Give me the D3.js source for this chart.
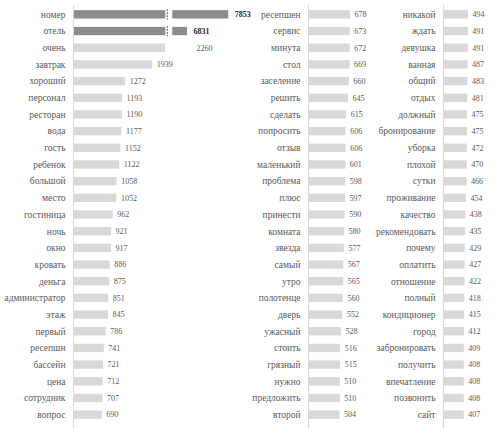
<!DOCTYPE html>
<html><head><meta charset="utf-8">
<script src="https://cdn.jsdelivr.net/npm/d3@7"></script>
<style>body{margin:0;background:#fff}svg{display:block}</style>
</head><body><svg id="c" width="495" height="428"></svg>
<script>
const cats1 = ["номер","отель","очень","завтрак","хороший","персонал","ресторан","вода","гость","ребенок","большой","место","гостиница","ночь","окно","кровать","деньга","администратор","этаж","первый","ресепшн","бассейн","цена","сотрудник","вопрос"];
const vals1 = [7853,6831,2260,1939,1272,1193,1190,1177,1152,1122,1058,1052,962,921,917,886,875,851,845,786,741,721,712,707,690];
const cats2 = ["ресепшен","сервис","минута","стол","заселение","решить","сделать","попросить","отзыв","маленький","проблема","плюс","принести","комната","звезда","самый","утро","полотенце","дверь","ужасный","стоить","грязный","нужно","предложить","второй"];
const vals2 = [678,673,672,669,660,645,615,606,606,601,598,597,590,580,577,567,565,560,552,528,516,515,510,510,504];
const cats3 = ["никакой","ждать","девушка","ванная","общий","отдых","должный","бронирование","уборка","плохой","сутки","проживание","качество","рекомендовать","почему","оплатить","отношение","полный","кондиционер","город","забронировать","получить","впечатление","позвонить","сайт"];
const vals3 = [494,491,491,487,483,481,475,475,472,470,466,454,438,435,429,427,422,418,415,412,409,408,408,408,407];
const breakLow = 2265, breakHigh = 6465;

const svg = d3.select("#c");
const FONT = '"Liberation Serif", serif';
const y = d3.scaleBand().domain(d3.range(25)).range([6, 423]).paddingInner(0.5).paddingOuter(0.25);

function panel(cats, vals, axisX, xs, opts) {
  const g = svg.append("g");
  g.append("line").attr("x1", axisX).attr("x2", axisX).attr("y1", 5).attr("y2", 428)
    .attr("stroke", "#d9d9d9").attr("stroke-width", 1);
  cats.forEach((c, i) => {
    const v = vals[i];
    const yy = y(i), bh = y.bandwidth();
    const cy = yy + bh / 2;
    g.append("text").attr("x", axisX - 8).attr("y", cy).attr("dy", "0.35em")
      .attr("text-anchor", "end").style("font-family", FONT).style("font-size", "9.5px")
      .attr("fill", "#595959").text(c);
    const broken = opts && v > breakLow;
    const fill = broken ? "#8c8c8c" : "#d9d9d9";
    let end;
    if (broken) {
      g.append("rect").attr("x", axisX + 0.5).attr("y", yy).attr("width", xs(breakLow)).attr("height", bh).attr("fill", fill);
      g.append("line").attr("x1", axisX + xs(breakLow) + 2.5).attr("x2", axisX + xs(breakLow) + 2.5)
        .attr("y1", yy - 1).attr("y2", yy + bh + 1).attr("stroke", "#595959").attr("stroke-width", 1)
        .attr("stroke-dasharray", "2,1");
      g.append("rect").attr("x", axisX + 0.5 + xs(breakHigh)).attr("y", yy).attr("width", xs(v) - xs(breakHigh)).attr("height", bh).attr("fill", fill);
      end = axisX + xs(v);
    } else {
      g.append("rect").attr("x", axisX + 0.5).attr("y", yy).attr("width", xs(v)).attr("height", bh).attr("fill", fill);
      end = axisX + xs(v);
    }
    let lx = end + 5;
    if (opts && !broken && v > breakLow * 0.95) lx = end + 32;
    if (broken) lx = end + 7;
    g.append("text").attr("x", lx).attr("y", cy).attr("dy", "0.35em")
      .style("font-family", FONT).style("font-size", "8px")
      .style("font-weight", broken ? "bold" : "normal")
      .attr("fill", broken ? "#262626" : "#595959").text(v);
  });
}

const k1 = 0.0403;
const x1 = d3.scaleLinear().domain([0, breakLow, breakHigh, 7853])
  .range([0, breakLow * k1, breakLow * k1 + 7, breakLow * k1 + 7 + (7853 - breakHigh) * k1]);
const x2 = d3.scaleLinear().domain([0, 678]).range([0, 678 * 0.0605]);
const x3 = d3.scaleLinear().domain([0, 494]).range([0, 494 * 0.0485]);

panel(cats1, vals1, 73.5, x1, true);
panel(cats2, vals2, 308.5, x2, false);
panel(cats3, vals3, 443.5, x3, false);
</script></body></html>
